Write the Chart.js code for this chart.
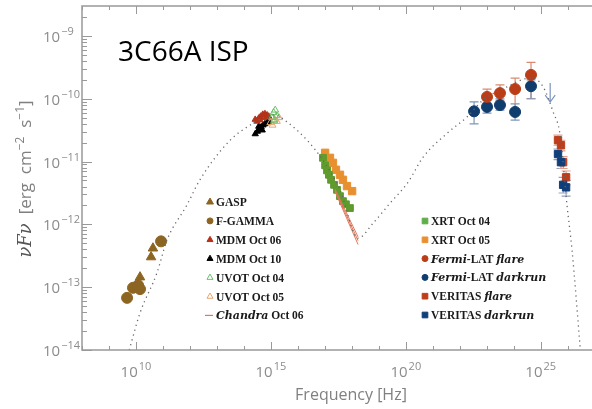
<!DOCTYPE html>
<html>
<head>
<meta charset="utf-8">
<script src="https://cdn.jsdelivr.net/npm/chart.js@4"></script>
<style>
  html, body { margin: 0; padding: 0; background: #fff; }
</style>
</head>
<body>
<canvas id="sed" width="592" height="409"></canvas>
<script>
// all values are log10(nu [Hz]) and log10(nuFnu [erg cm^-2 s^-1])
const gaspNu = [10.15, 10.56, 10.63];
const gaspF = [-12.84, -12.52, -12.38];
const fgammaNu = [9.67, 9.89, 10.08, 10.15, 10.93];
const fgammaF = [-13.17, -13.01, -12.97, -13.03, -12.27];

const mdm06Nu = [14.48, 14.55, 14.62, 14.70, 14.78, 14.86, 14.92, 14.60, 14.75, 14.42];
const mdm06F = [-10.36, -10.31, -10.28, -10.25, -10.24, -10.26, -10.28, -10.34, -10.30, -10.33];
const mdm10Nu = [14.42, 14.50, 14.57, 14.64, 14.71, 14.78, 14.86, 14.92, 14.55, 14.68];
const mdm10F = [-10.56, -10.52, -10.48, -10.45, -10.42, -10.40, -10.38, -10.36, -10.44, -10.50];
const uvot04Nu = [15.04, 15.10, 15.16, 15.22, 15.12];
const uvot04F = [-10.30, -10.22, -10.18, -10.27, -10.35];
const uvot05Nu = [14.98, 15.06, 15.14, 15.22, 15.30];
const uvot05F = [-10.38, -10.42, -10.33, -10.36, -10.30];

const xrt04Nu = [16.93, 17.01, 17.08, 17.15, 17.23, 17.34, 17.45, 17.56, 17.67, 17.78, 17.93];
const xrt04F = [-10.94, -11.06, -11.14, -11.21, -11.29, -11.37, -11.45, -11.55, -11.63, -11.68, -11.74];
const xrt05Nu = [17.01, 17.19, 17.30, 17.41, 17.56, 17.67, 17.82, 18.01];
const xrt05F = [-10.86, -10.94, -11.02, -11.13, -11.21, -11.29, -11.39, -11.47];

const chandraNu = [17.38, 18.23];
const chandraHiF = [-11.44, -12.20];
const chandraMidF = [-11.46, -12.26];
const chandraLoF = [-11.48, -12.32];

const fermiFlareNu = [23.01, 23.49, 24.05, 24.64];
const fermiFlareF = [-9.97, -9.91, -9.845, -9.62];
const fermiFlareHi = [-9.845, -9.78, -9.67, -9.42];
const fermiFlareLo = [-10.07, -10.02, -10.21, -10.00];
const fermiDarkNu = [22.53, 23.01, 23.49, 24.05, 24.64];
const fermiDarkF = [-10.20, -10.13, -10.10, -10.21, -9.80];
const fermiDarkHi = [-10.05, -10.02, -10.00, -10.08, -9.70];
const fermiDarkLo = [-10.40, -10.23, -10.18, -10.34, -10.00];
const upperLimitNu = [25.35];
const upperLimitF = [-9.75];

const veritasFlareNu = [25.64, 25.75, 25.83, 25.94];
const veritasFlareF = [-10.66, -10.74, -11.01, -11.25];
const veritasFlareHi = [-10.58, -10.66, -10.92, -11.15];
const veritasFlareLo = [-10.74, -10.83, -11.11, -11.37];
const veritasDarkNu = [25.64, 25.75, 25.83, 25.94];
const veritasDarkF = [-10.88, -11.01, -11.37, -11.41];
const veritasDarkHi = [-10.80, -10.92, -11.25, -11.30];
const veritasDarkLo = [-10.97, -11.11, -11.50, -11.55];

const modelNu = [9.75, 10.15, 10.78, 11.15, 11.89, 12.37, 13.49, 14.34, 14.78, 15.15, 15.60, 16.34, 16.93,
  17.56, 18.23, 18.79, 19.42, 20.08, 20.64, 21.53, 22.27, 22.86, 23.75, 24.35, 24.68, 25.09, 25.46,
  25.72, 25.98, 26.16, 26.46];
const modelF = [-14.0, -13.41, -12.77, -12.25, -11.69, -11.29, -10.66, -10.39, -10.29, -10.26, -10.37, -10.66, -10.98,
  -11.45, -12.22, -11.98, -11.66, -11.33, -10.93, -10.55, -10.29, -10.02, -9.81, -9.69, -9.67, -9.81, -10.21,
  -10.58, -11.72, -12.41, -13.95];

const xTickLabelExps = [10, 15, 20, 25];
const yTickLabelExps = [-14, -13, -12, -11, -10, -9];

const L = v => Math.pow(10, v);
const series = (nu, f) => nu.map((v, i) => ({ x: L(v), y: L(f[i]) }));

const brown = '#8d6522', red = '#bb3d18', blue = '#0f3d6e';

function marks(data, style, r, fill, border, extra) {
  return Object.assign({
    data, pointStyle: style, pointRadius: r, backgroundColor: fill,
    borderColor: border || fill, borderWidth: 1, showLine: false
  }, extra || {});
}
function line(data, color, width, dash, extra) {
  return Object.assign({
    data, showLine: true, pointRadius: 0, borderColor: color, borderWidth: width,
    borderDash: dash || [], backgroundColor: color
  }, extra || {});
}

const datasets = [
  line(series(modelNu, modelF), '#666', 1.3, [1.2, 3.8], { cubicInterpolationMode: 'monotone' }),
  marks(series(fermiFlareNu, fermiFlareF), 'circle', 5.5, red, red, { errHi: fermiFlareHi, errLo: fermiFlareLo, errColor: '#d98a70' }),
  marks(series(fermiDarkNu, fermiDarkF), 'circle', 5.5, blue, blue, { errHi: fermiDarkHi, errLo: fermiDarkLo, errColor: '#7f97b8' }),
  marks(series(veritasDarkNu, veritasDarkF), 'rect', 5.2, '#103f7a', '#103f7a', { errHi: veritasDarkHi, errLo: veritasDarkLo, errColor: '#8fa3c0' }),
  marks(series(veritasFlareNu, veritasFlareF), 'rect', 5.2, '#bd3e1c', '#bd3e1c', { errHi: veritasFlareHi, errLo: veritasFlareLo, errColor: '#e0a090' }),
  line(series(chandraNu, chandraHiF), '#e0785a', 1),
  line(series(chandraNu, chandraMidF), '#e0785a', 1),
  line(series(chandraNu, chandraLoF), '#e0785a', 1),
  marks(series(xrt04Nu, xrt04F), 'rect', 4.8, '#5f9b2d'),
  marks(series(xrt05Nu, xrt05F), 'rect', 5.2, '#e8902f'),
  marks(series(uvot04Nu, uvot04F), 'triangle', 4, 'rgba(0,0,0,0)', '#6cbf6a'),
  marks(series(uvot05Nu, uvot05F), 'triangle', 4, 'rgba(0,0,0,0)', '#eba46a'),
  marks(series(mdm06Nu, mdm06F), 'triangle', 3.6, '#b5321a'),
  marks(series(mdm10Nu, mdm10F), 'triangle', 3.6, '#000'),
  marks(series(gaspNu, gaspF), 'triangle', 5.5, brown),
  marks(series(fgammaNu, fgammaF), 'circle', 5.5, brown)
];

const legendLeft = [
  { style: 'triangle', r: 4, fill: brown, parts: [['GASP']] },
  { style: 'circle', r: 3, fill: brown, parts: [['F-GAMMA']] },
  { style: 'triangle', r: 3.5, fill: '#b5321a', parts: [['MDM Oct 06']] },
  { style: 'triangle', r: 3.5, fill: '#000', parts: [['MDM Oct 10']] },
  { style: 'triangle', r: 3.5, fill: '#fff', border: '#6cbf6a', parts: [['UVOT Oct 04']] },
  { style: 'triangle', r: 3.5, fill: '#fff', border: '#eba46a', parts: [['UVOT Oct 05']] },
  { style: 'line', fill: '#e0785a', parts: [['Chandra', true], [' Oct 06']] }
];
const legendRight = [
  { style: 'rect', r: 4, fill: '#5fae4a', parts: [['XRT Oct 04']] },
  { style: 'rect', r: 4, fill: '#e8902f', parts: [['XRT Oct 05']] },
  { style: 'circle', r: 3, fill: red, parts: [['Fermi', true], ['-LAT '], ['flare', true]] },
  { style: 'circle', r: 3, fill: blue, parts: [['Fermi', true], ['-LAT '], ['darkrun', true]] },
  { style: 'rect', r: 4, fill: '#bd3e1c', parts: [['VERITAS '], ['flare', true]] },
  { style: 'rect', r: 4, fill: '#103f7a', parts: [['VERITAS '], ['darkrun', true]] }
];

const errorBars = {
  id: 'errorBars',
  beforeDatasetsDraw(chart) {
    const ctx = chart.ctx, xs = chart.scales.x, ys = chart.scales.y;
    ctx.save();
    ctx.lineWidth = 1.2;
    chart.data.datasets.forEach(ds => {
      if (!ds.errHi) return;
      ctx.strokeStyle = ds.errColor;
      ds.data.forEach((p, i) => {
        const px = xs.getPixelForValue(p.x);
        const top = ys.getPixelForValue(L(ds.errHi[i]));
        const bot = ys.getPixelForValue(L(ds.errLo[i]));
        ctx.beginPath();
        ctx.moveTo(px, top); ctx.lineTo(px, bot);
        ctx.moveTo(px - 4.5, top); ctx.lineTo(px + 4.5, top);
        ctx.moveTo(px - 4.5, bot); ctx.lineTo(px + 4.5, bot);
        ctx.stroke();
      });
    });
    // upper limit arrow
    ctx.strokeStyle = '#7a95c0';
    upperLimitNu.forEach((nu, i) => {
      const px = xs.getPixelForValue(L(nu));
      const top = ys.getPixelForValue(L(upperLimitF[i]));
      const tip = top + 19;
      ctx.beginPath();
      ctx.moveTo(px, top); ctx.lineTo(px, tip);
      ctx.moveTo(px - 5, tip - 7); ctx.lineTo(px, tip); ctx.lineTo(px + 5, tip - 7);
      ctx.stroke();
    });
    ctx.restore();
  }
};

function powLabel(ctx, x, y, exp, align) {
  const base = '10', sup = String(exp).replace('-', '\u2212');
  ctx.font = '15px "Open Sans"';
  const wb = ctx.measureText(base).width;
  ctx.font = '11px "Open Sans"';
  const ws = ctx.measureText(sup).width;
  const x0 = align === 'center' ? x - (wb + ws + 1) / 2 : x;
  ctx.font = '15px "Open Sans"';
  ctx.fillText(base, x0, y);
  ctx.font = '11px "Open Sans"';
  ctx.fillText(sup, x0 + wb + 1, y - 7);
}

function drawParts(ctx, parts, x, y, size) {
  parts.forEach(([t, it]) => {
    ctx.font = it ? `italic bold ${size - 0.5}px "DejaVu Serif"` : `bold ${size}px "Liberation Serif"`;
    ctx.fillText(t, x, y);
    x += ctx.measureText(t).width;
  });
}

const frame = {
  id: 'frame',
  afterDraw(chart) {
    const ctx = chart.ctx, xs = chart.scales.x, ys = chart.scales.y, a = chart.chartArea;
    ctx.save();
    ctx.strokeStyle = '#999';
    ctx.lineWidth = 1.5;
    ctx.beginPath();
    ctx.moveTo(a.right + 2, a.top); ctx.lineTo(a.left, a.top); ctx.lineTo(a.left, a.bottom); ctx.lineTo(a.right + 2, a.bottom);
    ctx.stroke();

    ctx.lineWidth = 1;
    ctx.beginPath();
    for (let k = 8; k <= 26; k++) {
      const px = Math.round(xs.getPixelForValue(L(k))) + 0.5;
      const len = k % 5 === 0 ? 8 : 4;
      ctx.moveTo(px, a.top); ctx.lineTo(px, a.top + len);
      ctx.moveTo(px, a.bottom); ctx.lineTo(px, a.bottom - len);
    }
    for (let k = -14; k <= -9; k++) {
      for (let m = 1; m <= 9; m++) {
        const v = m * L(k);
        if (v > ys.max) break;
        const py = Math.round(ys.getPixelForValue(v)) + 0.5;
        ctx.moveTo(a.left, py); ctx.lineTo(a.left + (m === 1 ? 10 : 5), py);
      }
    }
    ctx.stroke();

    ctx.fillStyle = '#8c8c8c';
    ctx.textBaseline = 'alphabetic';
    ctx.textAlign = 'left';
    xTickLabelExps.forEach(e => powLabel(ctx, xs.getPixelForValue(L(e)), 377, e, 'center'));
    yTickLabelExps.forEach(e => powLabel(ctx, 43, ys.getPixelForValue(L(e)) + 6, e, 'left'));

    // axis titles
    ctx.fillStyle = '#808080';
    ctx.font = '16px "Open Sans"';
    ctx.textAlign = 'center';
    ctx.fillText('Frequency [Hz]', 351, 400);

    ctx.save();
    ctx.translate(31, 179);
    ctx.rotate(-Math.PI / 2);
    ctx.textAlign = 'left';
    const yParts = [
      ['\u03bdF\u03bd', 'italic 18px "DejaVu Serif"', 0],
      ['  [erg  cm', '17px "Open Sans"', 0],
      ['\u22122', '12px "Open Sans"', -7],
      ['  s', '17px "Open Sans"', 0],
      ['\u22121', '12px "Open Sans"', -7],
      [']', '17px "Open Sans"', 0]
    ];
    let total = 0;
    yParts.forEach(p => { ctx.font = p[1]; total += ctx.measureText(p[0]).width; });
    let cx = -total / 2;
    yParts.forEach((p, i) => {
      ctx.font = p[1];
      ctx.fillStyle = i === 0 ? '#555' : '#808080';
      ctx.fillText(p[0], cx, p[2]);
      cx += ctx.measureText(p[0]).width;
    });
    ctx.restore();

    // title
    ctx.fillStyle = '#000';
    ctx.textAlign = 'left';
    ctx.font = '28px "Open Sans"';
    ctx.fillText('3C66A ISP', 118, 61);

    // legend
    const drawLegend = (items, mx, tx, y0, step) => {
      items.forEach((it, i) => {
        const y = y0 + i * step;
        if (it.style === 'line') {
          ctx.strokeStyle = it.fill; ctx.lineWidth = 1.2;
          ctx.beginPath(); ctx.moveTo(mx - 5, y); ctx.lineTo(mx + 3, y); ctx.stroke();
        } else {
          ctx.fillStyle = it.fill;
          ctx.strokeStyle = it.border || it.fill;
          ctx.lineWidth = 1;
          Chart.helpers.drawPoint(ctx, { pointStyle: it.style, radius: it.r, rotation: 0, borderWidth: 1 }, mx, y);
        }
        ctx.fillStyle = '#1a1a1a';
        drawParts(ctx, it.parts, tx, y + 4, 11.5);
      });
    };
    drawLegend(legendLeft, 210, 216, 202, 18.9);
    drawLegend(legendRight, 425, 431, 221, 18.8);
    ctx.restore();
  }
};

new Chart(document.getElementById('sed'), {
  type: 'scatter',
  data: { datasets },
  options: {
    responsive: false,
    animation: false,
    devicePixelRatio: 1,
    layout: { autoPadding: false, padding: { left: 82, top: 6, right: 0, bottom: 59 } },
    scales: {
      x: { type: 'logarithmic', min: 1e8, max: L(26.9), display: false },
      y: { type: 'logarithmic', min: 1e-14, max: 3e-9, display: false }
    },
    plugins: { legend: { display: false }, tooltip: { enabled: false } }
  },
  plugins: [errorBars, frame]
});
</script>
</body>
</html>
